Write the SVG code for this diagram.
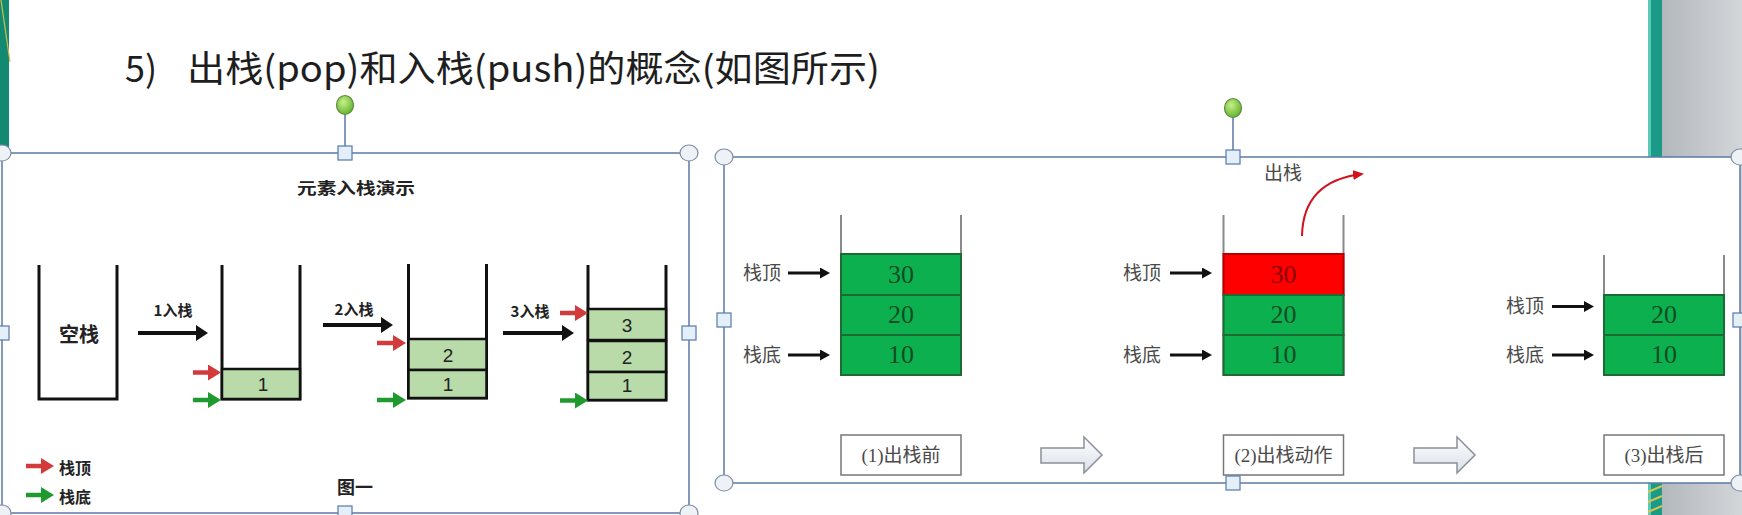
<svg xmlns="http://www.w3.org/2000/svg" width="1742" height="515" viewBox="0 0 1742 515">
<style>
.frame{fill:none;stroke:#5b79a6;stroke-width:1.5}
.corner{fill:#eef2f6;stroke:#7d8da3;stroke-width:1.2}
.sq{fill:#e4effa;stroke:#5f82b2;stroke-width:1.3}
.rot{fill:url(#gr);stroke:#5e8c3c;stroke-width:1.2}
.wallk{fill:none;stroke:#111;stroke-width:3}
.lblk{fill:#b8dba9;stroke:#111;stroke-width:2.5}
.numk{font-family:"Liberation Sans",Arial,sans-serif;font-size:19px;fill:#222;text-anchor:middle}
.hei{font-family:"Noto Sans CJK SC",sans-serif;font-weight:700;fill:#222}
.wallg{fill:none;stroke:#8a8a8a;stroke-width:2}
.gblk{fill:#0cb04e;stroke:#1d6a33;stroke-width:2}
.rblk{fill:#ff0000;stroke:#b80000;stroke-width:2}
.numg{font-family:"Liberation Serif","Times New Roman",serif;font-size:26px;fill:#124d24;text-anchor:middle}
.numr{font-family:"Liberation Serif","Times New Roman",serif;font-size:26px;fill:#8c0000;text-anchor:middle}
.song{font-family:"Liberation Serif","Noto Sans CJK SC",serif;fill:#4a4a4a}
.cap{fill:#fff;stroke:#777;stroke-width:1.5}
.blkarrow{fill:url(#ga);stroke:#8a8f99;stroke-width:1.5}
.ak{stroke:#111;stroke-width:4;fill:none}
.ar{stroke:#d23a3c;stroke-width:4.5;fill:none}
.ag{stroke:#1f9a2e;stroke-width:4.5;fill:none}
.ab{stroke:#111;stroke-width:3;fill:none}
</style>
<defs>
<radialGradient id="gr" cx="0.4" cy="0.35" r="0.7"><stop offset="0" stop-color="#c6f08a"/><stop offset="1" stop-color="#5fb12a"/></radialGradient>
<linearGradient id="ga" x1="0" y1="0" x2="0" y2="1"><stop offset="0" stop-color="#ffffff"/><stop offset="1" stop-color="#d9dee7"/></linearGradient>
<linearGradient id="gray" x1="0" y1="0" x2="1" y2="0"><stop offset="0" stop-color="#b3b8bd"/><stop offset="1" stop-color="#d3d6d9"/></linearGradient>
<marker id="mk" markerUnits="userSpaceOnUse" markerWidth="13" markerHeight="16" refX="4" refY="8" orient="auto"><path d="M0,0 L12,8 L0,16 z" fill="#111"/></marker>
<marker id="mr" markerUnits="userSpaceOnUse" markerWidth="14" markerHeight="16" refX="5" refY="8" orient="auto"><path d="M0,0 L13,8 L0,16 z" fill="#d23a3c"/></marker>
<marker id="mg" markerUnits="userSpaceOnUse" markerWidth="14" markerHeight="16" refX="5" refY="8" orient="auto"><path d="M0,0 L13,8 L0,16 z" fill="#1f9a2e"/></marker>
<marker id="mb" markerUnits="userSpaceOnUse" markerWidth="11" markerHeight="11" refX="4" refY="5.5" orient="auto"><path d="M0,0 L10,5.5 L0,11 z" fill="#111"/></marker>
<marker id="mcurve" markerUnits="userSpaceOnUse" markerWidth="12" markerHeight="10" refX="9" refY="5" orient="auto"><path d="M0,0 L11,5 L0,10 z" fill="#d0141c"/></marker>
</defs>

<rect x="0" y="0" width="1742" height="515" fill="#ffffff"/>
<g id="background">
<rect x="0" y="0" width="9" height="153" fill="#128a72"/>
<line x1="1" y1="0" x2="10" y2="62" stroke="#d2b94a" stroke-width="1.2"/>
<rect x="1648" y="0" width="14" height="515" fill="#1b9a88"/>
<rect x="1648" y="0" width="3" height="515" fill="#5cc8b6"/>
<rect x="1662" y="0" width="80" height="515" fill="url(#gray)"/>
<path d="M1648,492 L1662,486 M1648,502 L1662,496 M1648,512 L1662,506" stroke="#d8c34a" stroke-width="2"/>
</g>

<text id="title" x="0" y="82" font-family="Noto Sans CJK SC, sans-serif" font-size="36" fill="#1e1e1e"><tspan x="125">5)</tspan><tspan x="187" textLength="693" lengthAdjust="spacingAndGlyphs">出栈(pop)和入栈(push)的概念(如图所示)</tspan></text>

<!-- Left picture: push demo -->
<g id="left-panel">
<rect x="2" y="153" width="687" height="360" fill="#fff" stroke="none"/>
<text class="hei" x="356" y="194" font-size="16" text-anchor="middle" textLength="118" lengthAdjust="spacingAndGlyphs">元素入栈演示</text>
</g>
<g id="stack-empty">
<path class="wallk" d="M39,265 V399 H117 V265"/>
<text class="hei" x="79" y="342" font-size="20" text-anchor="middle" fill="#333">空栈</text>
</g>
<g id="stack-1">
<path class="wallk" d="M222,265 V399 H300 V265"/>
<rect class="lblk" x="222" y="369" width="78" height="30"/>
<text class="numk" x="263" y="391">1</text>
</g>
<g id="stack-2">
<path class="wallk" d="M408.5,264 V398 H486.5 V264"/>
<rect class="lblk" x="408.5" y="339" width="78" height="31"/>
<rect class="lblk" x="408.5" y="370" width="78" height="28"/>
<text class="numk" x="448" y="362">2</text>
<text class="numk" x="448" y="391">1</text>
</g>
<g id="stack-3">
<path class="wallk" d="M588,265 V400 H666 V265"/>
<rect class="lblk" x="588" y="309" width="78" height="31"/>
<rect class="lblk" x="588" y="341" width="78" height="31"/>
<rect class="lblk" x="588" y="372" width="78" height="28"/>
<text class="numk" x="627" y="332">3</text>
<text class="numk" x="627" y="364">2</text>
<text class="numk" x="627" y="392">1</text>
</g>
<g id="push-labels">
<text class="hei" x="173" y="316" font-size="15" text-anchor="middle">1入栈</text>
<text class="hei" x="354" y="315" font-size="15" text-anchor="middle">2入栈</text>
<text class="hei" x="530" y="317" font-size="15" text-anchor="middle">3入栈</text>
</g>
<g id="legend">
<line class="ar" x1="26" y1="466" x2="46" y2="466" marker-end="url(#mr)"/>
<text class="hei" x="59" y="474" font-size="16">栈顶</text>
<line class="ag" x1="26" y1="495" x2="46" y2="495" marker-end="url(#mg)"/>
<text class="hei" x="59" y="503" font-size="16">栈底</text>
<text class="hei" x="355" y="494" font-size="18" text-anchor="middle">图一</text>
</g>

<!-- Right picture: pop demo -->
<g id="right-panel">
<rect x="724" y="157" width="1016" height="326" fill="#fff"/>
<text class="song" x="1283" y="180" font-size="19" text-anchor="middle">出栈</text>
</g>
<g id="stack-before">
<path class="wallg" d="M841,215 V375 H961 V215"/>
<rect class="gblk" x="841" y="254" width="120" height="41"/>
<rect class="gblk" x="841" y="295" width="120" height="40"/>
<rect class="gblk" x="841" y="335" width="120" height="40"/>
<text class="numg" x="901" y="283">30</text>
<text class="numg" x="901" y="323">20</text>
<text class="numg" x="901" y="363">10</text>
<text class="song" x="743" y="280" font-size="19">栈顶</text>
<text class="song" x="743" y="362" font-size="19">栈底</text>
</g>
<g id="stack-action">
<path class="wallg" d="M1223.5,215 V375 H1343.5 V215"/>
<rect class="rblk" x="1223.5" y="254" width="120" height="41"/>
<rect class="gblk" x="1223.5" y="295" width="120" height="40"/>
<rect class="gblk" x="1223.5" y="335" width="120" height="40"/>
<text class="numr" x="1283.5" y="283">30</text>
<text class="numg" x="1283.5" y="323">20</text>
<text class="numg" x="1283.5" y="363">10</text>
<text class="song" x="1123" y="280" font-size="19">栈顶</text>
<text class="song" x="1123" y="362" font-size="19">栈底</text>
</g>
<g id="stack-after">
<path class="wallg" d="M1604,255 V375 H1724 V255"/>
<rect class="gblk" x="1604" y="295" width="120" height="40"/>
<rect class="gblk" x="1604" y="335" width="120" height="40"/>
<text class="numg" x="1664" y="323">20</text>
<text class="numg" x="1664" y="363">10</text>
<text class="song" x="1506" y="313" font-size="19">栈顶</text>
<text class="song" x="1506" y="362" font-size="19">栈底</text>
</g>
<g id="caption-1"><rect class="cap" x="841" y="435" width="120" height="40"/><text class="song" x="901" y="462" font-size="19" text-anchor="middle">(1)出栈前</text></g>
<g id="caption-2"><rect class="cap" x="1223.5" y="435" width="120" height="40"/><text class="song" x="1283.5" y="462" font-size="19" text-anchor="middle">(2)出栈动作</text></g>
<g id="caption-3"><rect class="cap" x="1604" y="435" width="120" height="40"/><text class="song" x="1664" y="462" font-size="19" text-anchor="middle">(3)出栈后</text></g>

<g id="connectors">
<line class="ak" x1="138" y1="333" x2="200" y2="333" marker-end="url(#mk)"/>
<line class="ak" x1="323" y1="325" x2="385" y2="325" marker-end="url(#mk)"/>
<line class="ak" x1="503" y1="333" x2="566" y2="333" marker-end="url(#mk)"/>
<line class="ar" x1="193" y1="372.5" x2="213" y2="372.5" marker-end="url(#mr)"/>
<line class="ag" x1="193" y1="400" x2="213" y2="400" marker-end="url(#mg)"/>
<line class="ar" x1="377" y1="343" x2="398" y2="343" marker-end="url(#mr)"/>
<line class="ag" x1="377" y1="400" x2="398" y2="400" marker-end="url(#mg)"/>
<line class="ar" x1="560" y1="313" x2="580" y2="313" marker-end="url(#mr)"/>
<line class="ag" x1="560" y1="400.5" x2="580" y2="400.5" marker-end="url(#mg)"/>
<line class="ab" x1="788" y1="273" x2="824" y2="273" marker-end="url(#mb)"/>
<line class="ab" x1="788" y1="355" x2="824" y2="355" marker-end="url(#mb)"/>
<line class="ab" x1="1170" y1="273" x2="1206" y2="273" marker-end="url(#mb)"/>
<line class="ab" x1="1170" y1="355" x2="1206" y2="355" marker-end="url(#mb)"/>
<line class="ab" x1="1552" y1="306.5" x2="1588" y2="306.5" marker-end="url(#mb)"/>
<line class="ab" x1="1552" y1="355" x2="1588" y2="355" marker-end="url(#mb)"/>
<path d="M1302,236 Q1303,181 1362,174" fill="none" stroke="#d0141c" stroke-width="2" marker-end="url(#mcurve)"/>
<polygon class="blkarrow" points="1041,448 1084,448 1084,437 1102,455 1084,473 1084,463 1041,463"/>
<polygon class="blkarrow" points="1414,448 1457,448 1457,437 1475,455 1457,473 1457,463 1414,463"/>
</g>

<g id="selection-left">
<rect class="frame" x="2" y="153" width="687" height="360"/>
<line x1="345" y1="114" x2="345" y2="146" stroke="#5b79a6" stroke-width="1.5"/>
<ellipse class="rot" cx="345" cy="105" rx="8.5" ry="9.5"/>
<ellipse class="corner" cx="2" cy="153" rx="9" ry="8"/>
<ellipse class="corner" cx="689" cy="153" rx="9" ry="8"/>
<ellipse class="corner" cx="2" cy="513" rx="9" ry="8"/>
<ellipse class="corner" cx="689" cy="513" rx="9" ry="8"/>
<rect class="sq" x="338" y="146" width="14" height="14"/>
<rect class="sq" x="338" y="506" width="14" height="14"/>
<rect class="sq" x="-5" y="326" width="14" height="14"/>
<rect class="sq" x="682" y="326" width="14" height="14"/>
</g>
<g id="selection-right">
<rect class="frame" x="724" y="157" width="1016" height="326"/>
<line x1="1233" y1="117" x2="1233" y2="150" stroke="#5b79a6" stroke-width="1.5"/>
<ellipse class="rot" cx="1233" cy="108" rx="8.5" ry="9.5"/>
<ellipse class="corner" cx="724" cy="157" rx="9" ry="8"/>
<ellipse class="corner" cx="1740" cy="157" rx="9" ry="8"/>
<ellipse class="corner" cx="724" cy="483" rx="9" ry="8"/>
<ellipse class="corner" cx="1740" cy="483" rx="9" ry="8"/>
<rect class="sq" x="1226" y="150" width="14" height="14"/>
<rect class="sq" x="1226" y="476" width="14" height="14"/>
<rect class="sq" x="717" y="313" width="14" height="14"/>
<rect class="sq" x="1733" y="313" width="14" height="14"/>
</g>
</svg>
